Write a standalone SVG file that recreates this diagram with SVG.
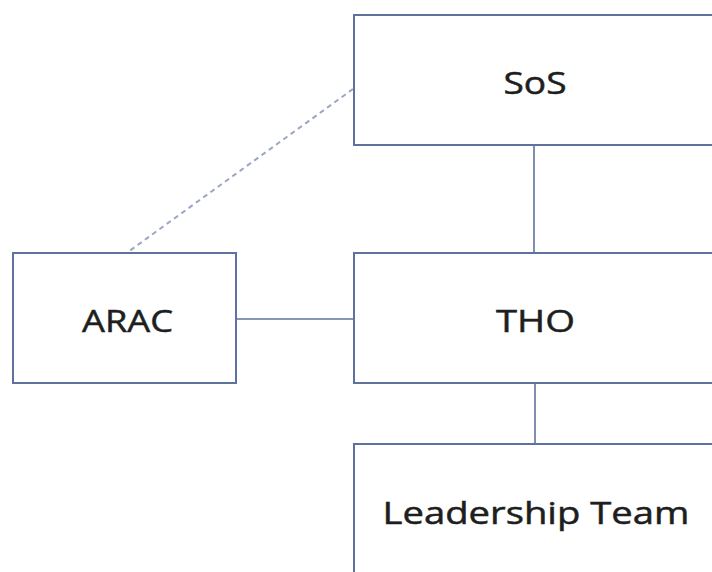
<svg xmlns="http://www.w3.org/2000/svg" width="712" height="572" viewBox="0 0 712 572">
<style>
.box{fill:#ffffff;stroke:#5f729e;stroke-width:2}
.lbl{font-family:"Open Sans","Liberation Sans",sans-serif;font-size:31px;fill:#1e1e1e;stroke:#1e1e1e;stroke-width:0.5;text-anchor:middle}
.con{stroke:#5f729e;stroke-width:1.6;fill:none}
.dash{stroke:#9aa6c2;stroke-width:2;stroke-dasharray:5 4;fill:none}
</style>
<rect width="712" height="572" fill="#ffffff"/>
<g id="connectors">
<line class="dash" x1="353" y1="89" x2="128" y2="252"/>
<line class="con" x1="534" y1="145" x2="534" y2="253"/>
<line class="con" x1="236" y1="319" x2="354" y2="319"/>
<line class="con" x1="535" y1="383" x2="535" y2="444"/>
</g>
<g id="sos">
<rect class="box" x="354" y="15" width="370" height="130"/>
<text class="lbl" x="535" y="94" textLength="63" lengthAdjust="spacingAndGlyphs">SoS</text>
</g>
<g id="arac">
<rect class="box" x="13" y="253" width="223" height="130"/>
<text class="lbl" x="127.5" y="332" textLength="91" lengthAdjust="spacingAndGlyphs">ARAC</text>
</g>
<g id="tho">
<rect class="box" x="354" y="253" width="370" height="130"/>
<text class="lbl" x="535.5" y="332" textLength="79" lengthAdjust="spacingAndGlyphs">THO</text>
</g>
<g id="leadership">
<rect class="box" x="354" y="444" width="370" height="140"/>
<text class="lbl" x="536" y="524" textLength="307" lengthAdjust="spacingAndGlyphs">Leadership Team</text>
</g>
</svg>
